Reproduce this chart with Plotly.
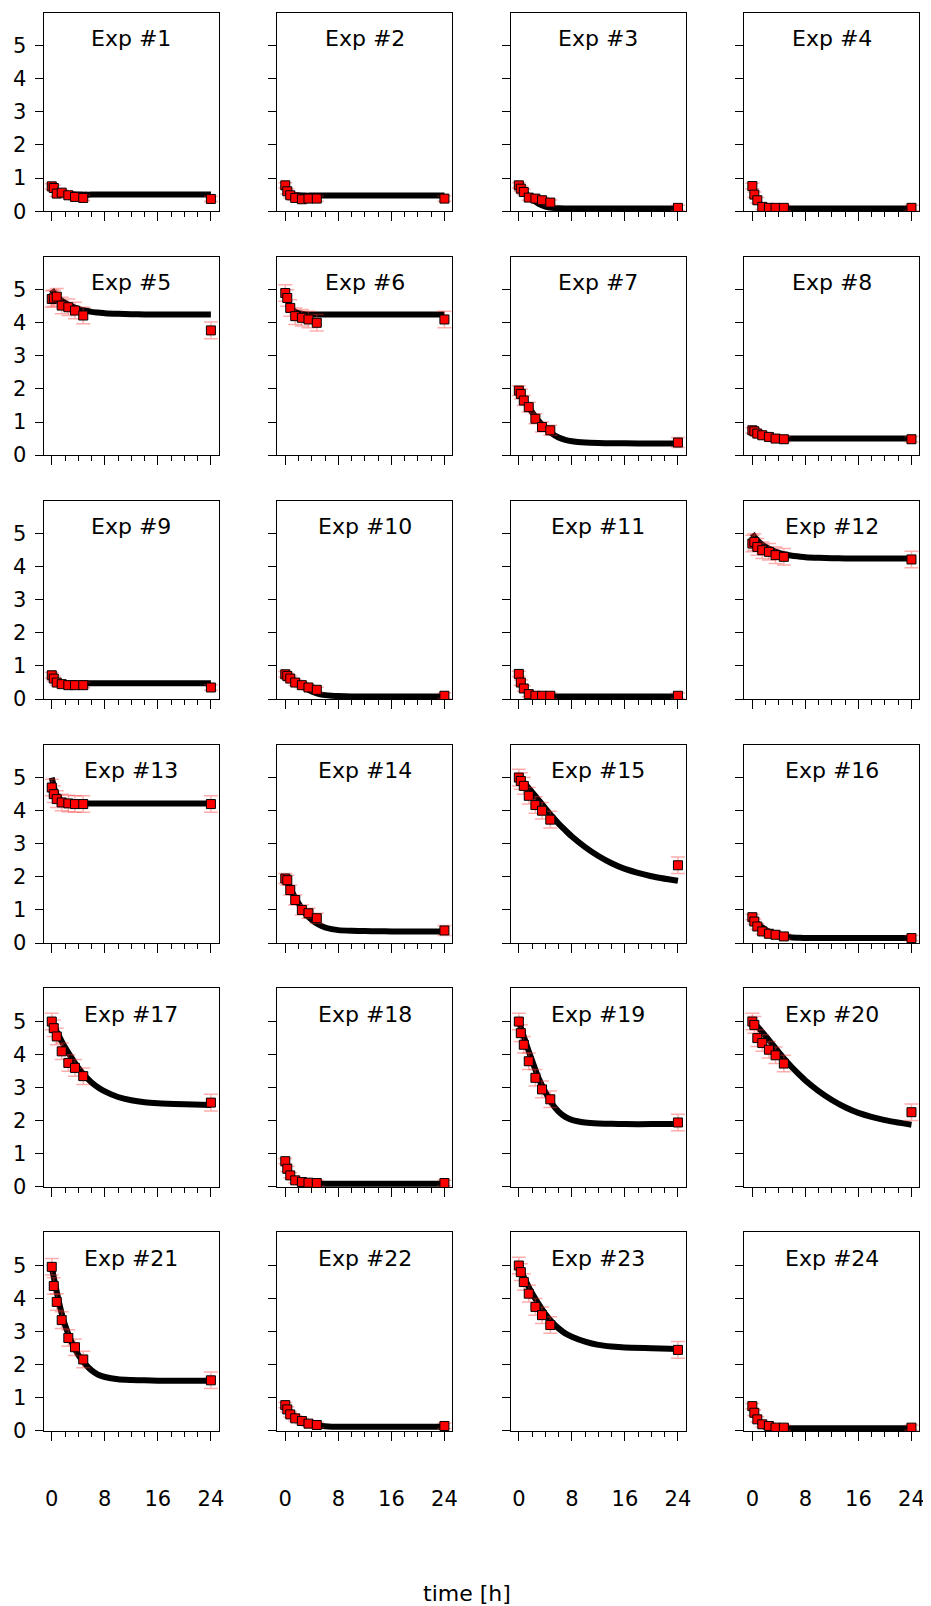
import plotly.graph_objects as go

# ---- data ----
DATA_T = [0, 0.3, 0.75, 1.5, 2.5, 3.5, 4.75, 24]
CURVE_T = [0, 0.5, 1, 1.5, 2, 3, 4, 5, 6, 7, 8, 10, 12, 14, 16, 20, 24]
X_TICKS = [0, 8, 16, 24]
X_MINOR = [2, 4, 6, 10, 12, 14, 18, 20, 22]
Y_TICKS = [0, 1, 2, 3, 4, 5]
EXP_NAMES = ["Exp #%d" % i for i in range(1, 25)]

exp_data = [
    [0.75, 0.70, 0.53, 0.56, 0.48, 0.43, 0.40, 0.37],
    [0.78, 0.60, 0.48, 0.40, 0.36, 0.38, 0.38, 0.38],
    [0.78, 0.68, 0.58, 0.41, 0.38, 0.33, 0.26, 0.10],
    [0.76, 0.50, 0.33, 0.13, 0.10, 0.10, 0.10, 0.10],
    [4.72, 4.74, 4.79, 4.52, 4.47, 4.37, 4.22, 3.77],
    [4.90, 4.75, 4.45, 4.20, 4.15, 4.10, 4.00, 4.10],
    [1.95, 1.85, 1.65, 1.45, 1.10, 0.85, 0.75, 0.38],
    [0.75, 0.72, 0.65, 0.60, 0.55, 0.50, 0.48, 0.48],
    [0.72, 0.62, 0.50, 0.45, 0.42, 0.42, 0.42, 0.35],
    [0.75, 0.70, 0.62, 0.50, 0.42, 0.35, 0.28, 0.10],
    [0.76, 0.50, 0.32, 0.15, 0.10, 0.10, 0.10, 0.10],
    [4.70, 4.75, 4.60, 4.50, 4.45, 4.35, 4.30, 4.22],
    [4.70, 4.50, 4.35, 4.25, 4.22, 4.20, 4.20, 4.20],
    [1.95, 1.90, 1.60, 1.30, 1.00, 0.90, 0.75, 0.38],
    [5.00, 4.90, 4.75, 4.45, 4.17, 4.00, 3.73, 2.35],
    [0.78, 0.65, 0.50, 0.35, 0.28, 0.25, 0.20, 0.15],
    [5.00, 4.80, 4.55, 4.10, 3.75, 3.60, 3.35, 2.55],
    [0.78, 0.55, 0.35, 0.20, 0.15, 0.13, 0.12, 0.12],
    [5.00, 4.65, 4.30, 3.80, 3.30, 2.95, 2.65, 1.95],
    [5.00, 4.90, 4.50, 4.35, 4.15, 3.98, 3.73, 2.26],
    [4.96, 4.38, 3.90, 3.35, 2.81, 2.53, 2.16, 1.53],
    [0.78, 0.65, 0.50, 0.38, 0.30, 0.22, 0.18, 0.15],
    [5.00, 4.80, 4.50, 4.15, 3.75, 3.50, 3.20, 2.45],
    [0.75, 0.55, 0.35, 0.20, 0.15, 0.10, 0.10, 0.10],
]

exp_err = [0.08, 0.08, 0.08, 0.08, 0.25, 0.25, 0.15, 0.08,
           0.08, 0.08, 0.08, 0.25, 0.25, 0.15, 0.25, 0.08,
           0.25, 0.08, 0.25, 0.25, 0.25, 0.08, 0.25, 0.08]

exp_curve = [
    [0.72, 0.64, 0.58, 0.55, 0.53, 0.51, 0.505, 0.50, 0.50, 0.50, 0.50, 0.50, 0.50, 0.50, 0.50, 0.50, 0.50],
    [0.75, 0.60, 0.52, 0.49, 0.48, 0.47, 0.47, 0.47, 0.47, 0.47, 0.47, 0.47, 0.47, 0.47, 0.47, 0.47, 0.47],
    [0.76, 0.65, 0.55, 0.45, 0.36, 0.22, 0.14, 0.10, 0.085, 0.08, 0.08, 0.08, 0.08, 0.08, 0.08, 0.08, 0.08],
    [0.76, 0.45, 0.26, 0.16, 0.11, 0.085, 0.08, 0.08, 0.08, 0.08, 0.08, 0.08, 0.08, 0.08, 0.08, 0.08, 0.08],
    [5.00, 4.86, 4.75, 4.67, 4.60, 4.50, 4.42, 4.37, 4.33, 4.31, 4.29, 4.27, 4.26, 4.25, 4.25, 4.25, 4.25],
    [4.95, 4.60, 4.42, 4.33, 4.29, 4.26, 4.25, 4.25, 4.25, 4.25, 4.25, 4.25, 4.25, 4.25, 4.25, 4.25, 4.25],
    [1.95, 1.77, 1.60, 1.44, 1.30, 1.03, 0.82, 0.65, 0.53, 0.46, 0.42, 0.38, 0.365, 0.36, 0.355, 0.35, 0.35],
    [0.76, 0.68, 0.63, 0.59, 0.56, 0.53, 0.51, 0.50, 0.50, 0.50, 0.50, 0.50, 0.50, 0.50, 0.50, 0.50, 0.50],
    [0.70, 0.56, 0.51, 0.49, 0.48, 0.48, 0.48, 0.48, 0.48, 0.48, 0.48, 0.48, 0.48, 0.48, 0.48, 0.48, 0.48],
    [0.75, 0.68, 0.61, 0.54, 0.47, 0.34, 0.23, 0.16, 0.12, 0.10, 0.09, 0.08, 0.08, 0.08, 0.08, 0.08, 0.08],
    [0.76, 0.45, 0.26, 0.16, 0.11, 0.085, 0.08, 0.08, 0.08, 0.08, 0.08, 0.08, 0.08, 0.08, 0.08, 0.08, 0.08],
    [5.00, 4.86, 4.75, 4.67, 4.60, 4.50, 4.42, 4.37, 4.33, 4.31, 4.29, 4.27, 4.26, 4.25, 4.25, 4.25, 4.25],
    [5.00, 4.60, 4.40, 4.30, 4.26, 4.23, 4.22, 4.22, 4.22, 4.22, 4.22, 4.22, 4.22, 4.22, 4.22, 4.22, 4.22],
    [1.95, 1.74, 1.55, 1.37, 1.20, 0.90, 0.70, 0.56, 0.47, 0.42, 0.39, 0.37, 0.36, 0.355, 0.35, 0.35, 0.35],
    [5.00, 4.90, 4.80, 4.68, 4.56, 4.32, 4.07, 3.83, 3.61, 3.41, 3.22, 2.90, 2.63, 2.41, 2.24, 2.02, 1.88],
    [0.76, 0.65, 0.55, 0.47, 0.40, 0.30, 0.23, 0.19, 0.17, 0.16, 0.15, 0.15, 0.15, 0.15, 0.15, 0.15, 0.15],
    [5.00, 4.80, 4.60, 4.40, 4.22, 3.90, 3.60, 3.36, 3.16, 3.01, 2.89, 2.72, 2.62, 2.56, 2.53, 2.50, 2.48],
    [0.76, 0.48, 0.30, 0.20, 0.15, 0.12, 0.11, 0.10, 0.10, 0.10, 0.10, 0.10, 0.10, 0.10, 0.10, 0.10, 0.10],
    [5.00, 4.70, 4.40, 4.10, 3.82, 3.28, 2.87, 2.52, 2.28, 2.12, 2.03, 1.95, 1.92, 1.91, 1.90, 1.90, 1.90],
    [5.00, 4.90, 4.80, 4.68, 4.56, 4.32, 4.07, 3.83, 3.61, 3.41, 3.22, 2.90, 2.63, 2.41, 2.24, 2.02, 1.88],
    [4.95, 4.45, 3.97, 3.55, 3.20, 2.68, 2.30, 2.03, 1.83, 1.70, 1.63, 1.56, 1.54, 1.53, 1.52, 1.52, 1.52],
    [0.76, 0.63, 0.52, 0.43, 0.36, 0.25, 0.19, 0.16, 0.14, 0.13, 0.13, 0.13, 0.13, 0.13, 0.13, 0.13, 0.13],
    [5.00, 4.77, 4.55, 4.35, 4.16, 3.83, 3.53, 3.29, 3.10, 2.95, 2.85, 2.70, 2.60, 2.55, 2.52, 2.50, 2.48],
    [0.76, 0.47, 0.28, 0.17, 0.12, 0.09, 0.08, 0.08, 0.08, 0.08, 0.08, 0.08, 0.08, 0.08, 0.08, 0.08, 0.08],
]

# ---- layout geometry (page pixels; page body has an 8px margin) ----
OFF = 8
W, H = 931 - OFF, 1606 - OFF
COL_LEFT = [44, 278.8, 513.6, 748.4]
PANEL_W = 176
ROW_TOP = [12.7 + 245.8 * i for i in range(6)]
PANEL_H = 200
FONT = "DejaVu Sans"

fig = go.Figure()
layout = dict(
    width=W, height=H,
    margin=dict(l=0, r=0, t=0, b=0),
    paper_bgcolor="white", plot_bgcolor="white",
    showlegend=False,
    font=dict(family=FONT, size=21, color="black"),
)
annotations = []

for i in range(24):
    r, c = divmod(i, 4)
    n = i + 1
    xa = "x" if n == 1 else "x%d" % n
    ya = "y" if n == 1 else "y%d" % n
    xkey = "xaxis" if n == 1 else "xaxis%d" % n
    ykey = "yaxis" if n == 1 else "yaxis%d" % n
    L = COL_LEFT[c] - OFF
    T = ROW_TOP[r] - OFF
    layout[xkey] = dict(
        domain=[L / W, (L + PANEL_W) / W], anchor=ya,
        range=[-1.2, 25.2], tickvals=X_TICKS, ticktext=[str(v) for v in X_TICKS],
        showticklabels=(r == 5), ticks="outside", ticklen=9, tickwidth=1.3, tickcolor="black",
        minor=dict(tickvals=X_MINOR, ticks="outside", ticklen=5, tickwidth=1.2, tickcolor="black"),
        showline=True, linecolor="black", linewidth=1.3, mirror=True,
        showgrid=False, zeroline=False, fixedrange=True,
        tickfont=dict(family=FONT, size=21, color="black"),
        ticklabelstandoff=40,
    )
    layout[ykey] = dict(
        domain=[1 - (T + PANEL_H) / H, 1 - T / H], anchor=xa,
        range=[0, 6], tickvals=Y_TICKS,
        showticklabels=(c == 0), ticks="outside", ticklen=8, tickwidth=1.3, tickcolor="black",
        showline=True, linecolor="black", linewidth=1.3, mirror=True,
        showgrid=False, zeroline=False, fixedrange=True,
        tickfont=dict(family=FONT, size=21, color="black"),
        ticklabelstandoff=4,
    )
    fig.add_trace(go.Scatter(
        x=CURVE_T, y=exp_curve[i], xaxis=xa, yaxis=ya, mode="lines",
        line=dict(color="black", width=6, shape="spline", smoothing=0.6),
        hoverinfo="skip",
    ))
    fig.add_trace(go.Scatter(
        x=DATA_T, y=exp_data[i], xaxis=xa, yaxis=ya, mode="markers",
        marker=dict(symbol="square", size=9, color="red", line=dict(color="black", width=1)),
        error_y=dict(type="data", array=[exp_err[i]] * len(DATA_T), visible=True,
                     color="rgba(255,50,50,0.4)", thickness=1.5, width=7),
    ))
    annotations.append(dict(
        text=EXP_NAMES[i], xref="%s domain" % xa, yref="%s domain" % ya,
        x=0.5, y=0.871, xanchor="center", yanchor="middle", showarrow=False,
        font=dict(family=FONT, size=22, color="black"),
    ))

annotations.append(dict(
    text="time [h]", xref="paper", yref="paper", x=(470 - OFF) / W, y=1 - (1605 - OFF) / H,
    xanchor="center", yanchor="middle", showarrow=False,
    font=dict(family=FONT, size=22, color="black"),
))
layout["annotations"] = annotations
fig.update_layout(**layout)
fig.write_html("out.html")
